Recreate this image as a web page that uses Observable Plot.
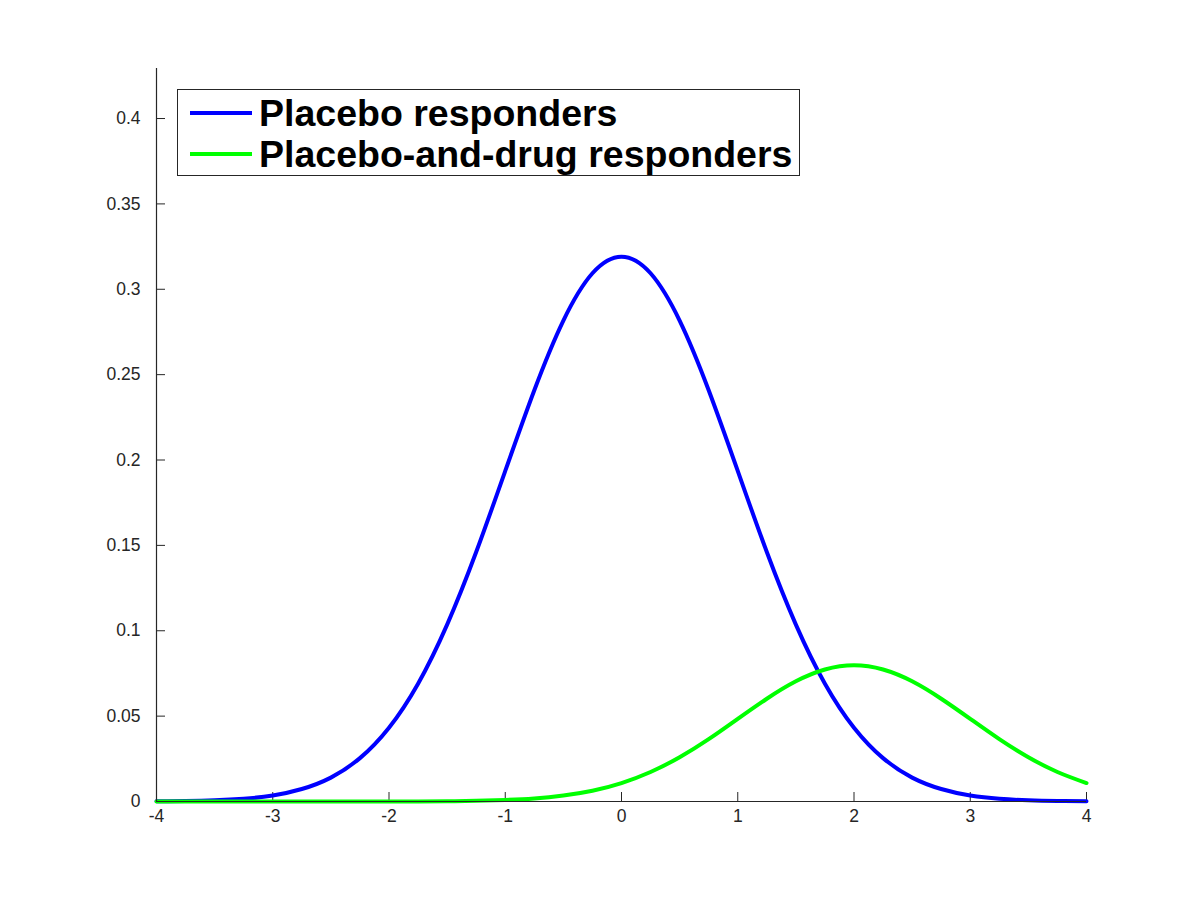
<!DOCTYPE html>
<html>
<head>
<meta charset="utf-8">
<script src="https://cdn.jsdelivr.net/npm/d3@7"></script>
<script src="https://cdn.jsdelivr.net/npm/@observablehq/plot@0.6"></script>
<style>
  html, body { margin: 0; padding: 0; background: #fff; }
  #wrap { position: relative; width: 1200px; height: 900px; }
  #legend {
    position: absolute; left: 177px; top: 89px; width: 623px; height: 87px;
    box-sizing: border-box; border: 1px solid #262626; background: #fff;
    font-family: "Liberation Sans", Arial, Helvetica, sans-serif; font-weight: bold;
    font-size: 37.5px; color: #000;
  }
  .row { position: absolute; left: 0; height: 40px; display: flex; align-items: center; white-space: nowrap; }
  .swatch { display: inline-block; width: 62px; height: 4px; margin-left: 12px; margin-right: 7px; }
</style>
</head>
<body>
<div id="wrap"></div>
<script>
const xValues = [-4, -3.75, -3.5, -3.25, -3, -2.75, -2.5, -2.25, -2, -1.75, -1.5, -1.25, -1, -0.75, -0.5, -0.25,
                 0, 0.25, 0.5, 0.75, 1, 1.25, 1.5, 1.75, 2, 2.25, 2.5, 2.75, 3, 3.25, 3.5, 3.75, 4];
const placebo = [0.0001, 0.0003, 0.0007, 0.0016, 0.0035, 0.0073, 0.0140, 0.0254, 0.0432, 0.0690, 0.1036, 0.1461, 0.1936, 0.2409, 0.2817, 0.3094,
                 0.3191, 0.3094, 0.2817, 0.2409, 0.1936, 0.1461, 0.1036, 0.0690, 0.0432, 0.0254, 0.0140, 0.0073, 0.0035, 0.0016, 0.0007, 0.0003, 0.0001];
const placeboDrug = [0, 0, 0, 0, 0, 0, 0, 0.00001, 0.00003, 0.00007, 0.00017, 0.0004, 0.0009, 0.0018, 0.0035, 0.0063,
                     0.0108, 0.0173, 0.0259, 0.0365, 0.0484, 0.0602, 0.0704, 0.0773, 0.0798, 0.0773, 0.0704, 0.0602, 0.0484, 0.0365, 0.0259, 0.0173, 0.0108];
const seriesNames = ["Placebo responders", "Placebo-and-drug responders"];
const seriesColors = ["#0000ff", "#00ff00"];
const xTicks = [-4, -3, -2, -1, 0, 1, 2, 3, 4];
const yTicks = [0, 0.05, 0.1, 0.15, 0.2, 0.25, 0.3, 0.35, 0.4];
const xDomain = [-4, 4];
const yDomain = [0, 0.4293];

const data = [];
xValues.forEach((x, i) => {
  data.push({x, y: placebo[i], s: seriesNames[0]});
});
xValues.forEach((x, i) => {
  data.push({x, y: placeboDrug[i], s: seriesNames[1]});
});

const W = 1200, H = 900, mL = 156, mR = 114, mT = 68, mB = 99;
const plotW = W - mL - mR, plotH = H - mT - mB;
const tickPx = 9;
const xTickLen = (yDomain[1] - yDomain[0]) * tickPx / plotH;
const yTickLen = (xDomain[1] - xDomain[0]) * tickPx / plotW;
const axisColor = "#262626";

const chart = Plot.plot({
  width: W, height: H,
  marginLeft: mL, marginRight: mR, marginTop: mT, marginBottom: mB,
  style: { fontFamily: "'Liberation Sans', Arial, Helvetica, sans-serif", fontSize: "17.5px", color: axisColor, background: "#fff" },
  x: { domain: xDomain, ticks: xTicks },
  y: { domain: yDomain, ticks: yTicks },
  color: { domain: seriesNames, range: seriesColors },
  marks: [
    Plot.axisX(xTicks, { tickSize: 0, tickPadding: 8, tickFormat: d => String(d), fill: axisColor, fontSize: 17.5, label: null }),
    Plot.axisY(yTicks, { tickSize: 0, tickPadding: 16, tickFormat: d => String(d), fill: axisColor, fontSize: 17.5, label: null }),
    Plot.ruleX(xTicks, { x: d => d, y1: yDomain[0], y2: yDomain[0] + xTickLen, stroke: axisColor, strokeWidth: 1 }),
    Plot.ruleY(yTicks, { y: d => d, x1: xDomain[0], x2: xDomain[0] + yTickLen, stroke: axisColor, strokeWidth: 1 }),
    Plot.line(data, { x: "x", y: "y", z: "s", stroke: "s", strokeWidth: 4, curve: "natural" }),
    Plot.ruleY([yDomain[0]], { stroke: axisColor, strokeWidth: 1.2 }),
    Plot.ruleX([xDomain[0]], { stroke: axisColor, strokeWidth: 1.2 })
  ]
});

const wrap = document.getElementById("wrap");
wrap.appendChild(chart);

const legend = document.createElement("div");
legend.id = "legend";
seriesNames.forEach((name, i) => {
  const row = document.createElement("div");
  row.className = "row";
  row.style.top = (i === 0 ? 3 : 44) + "px";
  const sw = document.createElement("span");
  sw.className = "swatch";
  sw.style.background = seriesColors[i];
  const label = document.createElement("span");
  label.textContent = name;
  row.appendChild(sw);
  row.appendChild(label);
  legend.appendChild(row);
});
wrap.appendChild(legend);
</script>
</body>
</html>
